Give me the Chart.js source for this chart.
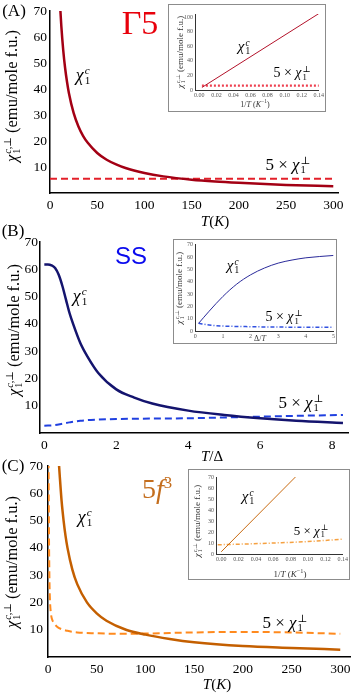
<!DOCTYPE html>
<html>
<head>
<meta charset="utf-8">
<script src="https://cdn.jsdelivr.net/npm/chart.js@4"></script>
<style>
  body { margin: 0; background: #fff; }
  #fig { position: relative; width: 357px; height: 696px; overflow: hidden; background: #fff; font-family: "Liberation Serif", "DejaVu Serif", serif; }
  #fig canvas { position: absolute; }
  .box { position: absolute; border: 1.5px solid #8c8c8c; background: #fff; box-sizing: border-box; }
  .lbl { position: absolute; transform: translate(-50%, -50%); white-space: nowrap; line-height: 1; }
  .rot { position: absolute; transform: translate(-50%, -50%) rotate(-90deg); white-space: nowrap; line-height: 1; }
  .st { display: inline-flex; flex-direction: column; font-size: 0.62em; line-height: 0.9; vertical-align: 0.6em; margin-left: 1px; }
</style>
</head>
<body>
<div id="fig">
  <canvas id="mainA"></canvas>
  <canvas id="mainB"></canvas>
  <canvas id="mainC"></canvas>
  <div class="box" style="left:168px;top:4px;width:158px;height:108px"></div>
  <div class="box" style="left:173px;top:239px;width:164px;height:105px"></div>
  <div class="box" style="left:188px;top:469px;width:162px;height:111px"></div>
  <canvas id="insetA"></canvas>
  <canvas id="insetB"></canvas>
  <canvas id="insetC"></canvas>
</div>
<script>
// ---- panel A (Gamma5): chi vs T
const tA = [10.5, 12, 14, 16, 18, 20, 25, 30, 35, 40, 50, 60, 70, 80, 100, 120, 150, 175, 200, 250, 300]
const chiCA = [73.3, 64.2, 55, 48.1, 42.8, 38.5, 30.8, 25.7, 22, 19.3, 15.4, 12.8, 11, 9.6, 7.7, 6.4, 5.1, 4.4, 3.9, 3.1, 2.6]
const tPerpA = [0, 300]
const chiPerpA = [5.5, 5.5]
// inset A: chi vs 1/T
const invTInsetA = [0.003, 0.14]
const chiCInsetA = [3.5, 104.5]
const invTPerpInsetA = [0.003, 0.14]
const chiPerpInsetA = [6, 6]

// ---- panel B (SS): chi vs T/Delta
const tB = [0, 0.1, 0.2, 0.3, 0.4, 0.5, 0.6, 0.7, 0.8, 1.0, 1.2, 1.5, 2.0, 2.5, 3.0, 4.0, 5.0, 6.0, 7.0, 8.3]
const chiCB = [61.8, 61.8, 61.5, 60.5, 58, 54, 49, 44, 40, 33, 28, 22, 16, 13, 10.8, 8.2, 6.6, 5.4, 4.5, 3.7]
const tPerpB = [0, 0.3, 0.5, 0.7, 1.0, 1.5, 2, 3, 4, 5, 6, 7, 8.3]
const chiPerpB = [2.7, 2.9, 3.4, 3.9, 4.5, 4.9, 5.1, 5.3, 5.4, 5.7, 6.0, 6.3, 6.6]
// inset B: chi vs Delta/T
const xInsetB = [0.12, 0.5, 1, 1.5, 2, 2.5, 3, 3.5, 4, 5]
const chiCInsetB = [6.2, 16, 28, 38, 45.5, 51, 55, 57.5, 59.3, 61.2]
const chiPerpInsetB = [6.2, 4.9, 4, 3.7, 3.5, 3.3, 3.2, 3.1, 3.1, 3]

// ---- panel C (5f3): chi vs T
const tC = [11, 12, 14, 16, 18, 20, 25, 30, 40, 50, 60, 80, 100, 125, 150, 200, 250, 300]
const chiCC = [72, 66.7, 57, 50, 44.4, 40, 32, 26.7, 20, 16, 13.3, 10, 8.2, 6.6, 5.4, 4.0, 3.3, 2.7]
const tPerpC = [0.3, 0.6, 1, 1.5, 2, 3, 4, 6, 9, 14, 20, 30, 50, 75, 100, 150, 200, 250, 300]
const chiPerpC = [100, 70, 45, 28, 21, 16, 14, 12.5, 11.2, 10.2, 9.6, 9.0, 8.7, 8.5, 8.6, 9.0, 9.2, 9.0, 8.5]
// inset C: chi vs 1/T
const invTInsetC = [0.0, 0.0855]
const chiCInsetC = [2, 70]
const invTPerpInsetC = [-0.004, 0.02, 0.06, 0.10, 0.14]
const chiPerpInsetC = [8.4, 8.9, 10, 11.3, 13.5]

const pts = (xs, ys) => xs.map((x, i) => ({ x: x, y: ys[i] }))

const line = (xs, ys, color, width, dash) => ({
    data: pts(xs, ys),
    borderColor: color,
    borderWidth: width,
    borderDash: dash || [],
    pointRadius: 0,
    fill: false,
    cubicInterpolationMode: 'monotone'
})

// box = where the canvas sits on the page, area = where the plot area should land
const makeChart = (id, box, area, xs, ys, datasets, tick) => {
    const cv = document.getElementById(id)
    cv.width = box.w
    cv.height = box.h
    cv.style.left = box.x + 'px'
    cv.style.top = box.y + 'px'
    const font = { family: '"Liberation Serif", serif', size: tick.size }
    return new Chart(cv, {
        type: 'line',
        data: { datasets: datasets },
        options: {
            responsive: false,
            animation: false,
            layout: { padding: { left: 0, top: area.t - box.y, right: box.x + box.w - area.r, bottom: 0 } },
            plugins: { legend: { display: false }, tooltip: { enabled: false } },
            scales: {
                x: {
                    type: 'linear', min: xs.min, max: xs.max,
                    grid: { display: false, drawTicks: false },
                    border: { color: tick.axis, width: tick.lw },
                    ticks: { stepSize: xs.step, includeBounds: false, autoSkip: false, maxRotation: 0,
                        padding: tick.xpad, color: tick.color, font: font, callback: xs.fmt },
                    afterFit: (s) => { s.height = box.y + box.h - area.b }
                },
                y: {
                    type: 'linear', min: ys.min, max: ys.max,
                    grid: { display: false, drawTicks: false },
                    border: { color: tick.axis, width: tick.lw },
                    ticks: { stepSize: ys.step, includeBounds: false, autoSkip: false,
                        padding: tick.ypad, color: tick.color, font: font, callback: ys.fmt },
                    afterFit: (s) => { s.width = area.l - box.x }
                }
            }
        }
    })
}

const noZero = (v) => v === 0 ? '' : v
const two = (v) => v.toFixed(2)
const mainTick = { size: 13.5, color: '#000', axis: '#000', lw: 1.5, xpad: 4, ypad: 3 }
const insetTick = { size: 6, color: '#555', axis: '#333', lw: 1, xpad: 2, ypad: 2 }

// main panels
makeChart('mainA', { x: 0, y: 0, w: 357, h: 232 }, { l: 50, t: 10, r: 338, b: 193 },
    { min: 0, max: 305, step: 50 }, { min: 0, max: 70, step: 10, fmt: noZero },
    [line(tA, chiCA, '#a30014', 2.5), line(tPerpA, chiPerpA, '#e3202a', 2, [7, 4])], mainTick)

makeChart('mainB', { x: 0, y: 232, w: 357, h: 232 }, { l: 40, t: 242, r: 348, b: 433 },
    { min: -0.12, max: 8.44, step: 2 }, { min: 0, max: 70, step: 10, fmt: noZero },
    [line(tB, chiCB, '#14146e', 2.5), line(tPerpB, chiPerpB, '#2040e0', 2, [7, 4])],
    Object.assign({}, mainTick, { ypad: 2 }))

makeChart('mainC', { x: 0, y: 450, w: 357, h: 246 }, { l: 48, t: 466, r: 350, b: 657 },
    { min: 0, max: 310, step: 50 }, { min: 0, max: 70, step: 10, fmt: noZero },
    [line(tC, chiCC, '#c45f00', 2.5), line(tPerpC, chiPerpC, '#ff8a1e', 2, [7, 4])],
    Object.assign({}, mainTick, { ypad: 5 }))

// insets
makeChart('insetA', { x: 168, y: 4, w: 158, h: 108 }, { l: 195, t: 14, r: 320, b: 90 },
    { min: -0.0051, max: 0.1402, step: 0.02, fmt: two }, { min: 0, max: 104, step: 20 },
    [line(invTInsetA, chiCInsetA, '#b3122a', 1), line(invTPerpInsetA, chiPerpInsetA, '#ee4050', 2.2, [2, 2])], insetTick)

makeChart('insetB', { x: 173, y: 239, w: 164, h: 105 }, { l: 195, t: 244, r: 335, b: 331 },
    { min: -0.01, max: 5, step: 1 }, { min: 0, max: 70, step: 10 },
    [line(xInsetB, chiCInsetB, '#2a2a9a', 1), line(xInsetB, chiPerpInsetB, '#3050e0', 1.5, [4, 2, 1, 2])], insetTick)

makeChart('insetC', { x: 188, y: 469, w: 162, h: 111 }, { l: 216, t: 477, r: 343, b: 554 },
    { min: -0.006, max: 0.14, step: 0.02, fmt: two }, { min: 0, max: 70, step: 10 },
    [line(invTInsetC, chiCInsetC, '#c86a10', 1), line(invTPerpInsetC, chiPerpInsetC, '#f5a040', 1.5, [4, 2, 1, 2])], insetTick)

// text on top of the charts
const fig = document.getElementById('fig')
const chi = (sup) => '<i>\u03c7</i><span class="st"><span>' + sup + '</span><span>1</span></span>'
const perp = '5 \u00d7 ' + chi('\u22a5')
const yTitle = chi('<i>c</i>,\u22a5') + ' (emu/mole f.u.)'

const addText = (html, x, y, size, extra, cls) => {
    const d = document.createElement('div')
    d.className = cls || 'lbl'
    d.style.left = x + 'px'
    d.style.top = y + 'px'
    d.style.fontSize = size + 'px'
    if (extra) d.style.cssText += extra
    d.innerHTML = html
    fig.appendChild(d)
}

// panel letters
addText('(A)', 14, 10, 17)
addText('(B)', 13, 230, 17)
addText('(C)', 13, 465, 17)

// panel names
addText('\u03935', 140, 23, 34, 'color:#e8000b')
addText('SS', 131, 256, 24, 'color:#0a0aee;font-family:"Liberation Sans",sans-serif')
addText('5<i>f</i><sup style="font-size:0.6em">3</sup>', 157, 489, 28, 'color:#c46e1e')

// axis titles
addText(yTitle, 12, 96, 16.5, '', 'rot')
addText(yTitle, 14, 330, 16.5, '', 'rot')
addText(yTitle, 12, 562, 16.5, '', 'rot')
addText('<i>T</i>(<i>K</i>)', 215, 221, 15)
addText('<i>T</i>/\u0394', 212, 456, 15)
addText('<i>T</i>(<i>K</i>)', 217, 684, 15)

// curve labels, main
addText(chi('<i>c</i>'), 83, 75, 18)
addText(perp, 288, 165, 17)
addText(chi('<i>c</i>'), 80, 296, 18)
addText(perp, 301, 403, 17)
addText(chi('<i>c</i>'), 85, 517, 18)
addText(perp, 285, 623, 17)

// inset titles and labels
addText(yTitle, 181, 52, 9, 'color:#333', 'rot')
addText('1/<i>T</i> (<i>K</i><sup style="font-size:0.7em">\u22121</sup>)', 255, 104, 8, 'color:#333')
addText(chi('<i>c</i>'), 244, 47, 15)
addText(perp, 292, 74, 14)

addText(yTitle, 180, 288, 9, 'color:#333', 'rot')
addText('\u0394/<i>T</i>', 260, 339, 8, 'color:#333')
addText(chi('<i>c</i>'), 233, 266, 15)
addText(perp, 284, 318, 14)

addText(yTitle, 198, 521, 9, 'color:#333', 'rot')
addText('1/<i>T</i> (<i>K</i><sup style="font-size:0.7em">\u22121</sup>)', 290, 573, 9, 'color:#333')
addText(chi('<i>c</i>'), 248, 497, 15)
addText(perp, 311, 531, 13)
</script>
</body>
</html>
